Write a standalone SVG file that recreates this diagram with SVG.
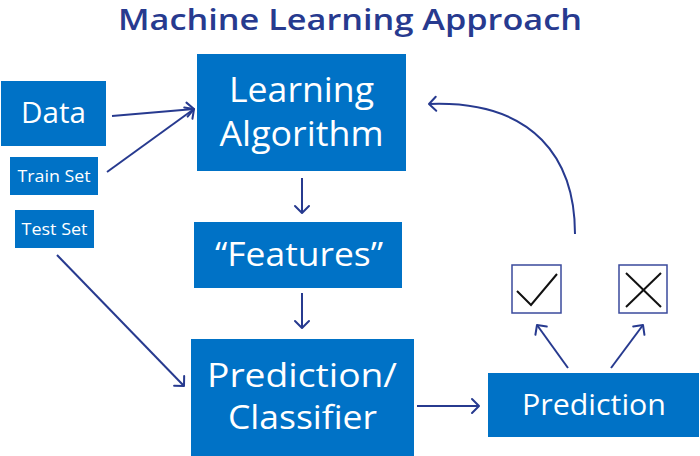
<svg xmlns="http://www.w3.org/2000/svg" width="700" height="456" viewBox="0 0 700 456">
<style>
.box{fill:#0072C6;}
.lbl{fill:#ffffff;font-family:"Open Sans",Lato,"Liberation Sans",sans-serif;text-anchor:middle;}
.edge{fill:none;stroke:#273a8f;stroke-width:2;}
.mk{fill:none;stroke:#273a8f;stroke-width:2;stroke-linecap:round;stroke-linejoin:round;}
.title{fill:#273a8f;font-family:"Open Sans",Lato,"Liberation Sans",sans-serif;font-weight:600;text-anchor:middle;}
.res{fill:#ffffff;stroke:#3a4a9c;stroke-width:1.5;}
.sym{fill:none;stroke:#111111;stroke-width:2;}
</style>
<defs>
<marker id="arr" markerUnits="userSpaceOnUse" markerWidth="20" markerHeight="20" viewBox="-10 -10 20 20" refX="0" refY="0" orient="auto">
<path class="mk" d="M-7,-7 L0,0 L-7,7"/>
</marker>
</defs>
<rect width="700" height="456" fill="#ffffff"/>
<text class="title" x="350" y="30" font-size="29" textLength="464" lengthAdjust="spacingAndGlyphs">Machine Learning Approach</text>

<g id="data"><rect class="box" x="1" y="81" width="105" height="65"/><text class="lbl" x="53.5" y="123" font-size="30" textLength="65" lengthAdjust="spacingAndGlyphs">Data</text></g>
<g id="trainset"><rect class="box" x="10" y="157" width="88" height="38"/><text class="lbl" x="54" y="182" font-size="17" textLength="73" lengthAdjust="spacingAndGlyphs">Train Set</text></g>
<g id="testset"><rect class="box" x="15" y="210" width="79" height="38"/><text class="lbl" x="54.5" y="235" font-size="17" textLength="66" lengthAdjust="spacingAndGlyphs">Test Set</text></g>
<g id="learning"><rect class="box" x="197" y="54" width="209" height="117"/><text class="lbl" x="301.5" y="102" font-size="34" textLength="145" lengthAdjust="spacingAndGlyphs">Learning</text><text class="lbl" x="301.5" y="146" font-size="34" textLength="164" lengthAdjust="spacingAndGlyphs">Algorithm</text></g>
<g id="features"><rect class="box" x="194" y="222" width="208" height="66"/><text class="lbl" x="299" y="266" font-size="32" textLength="168" lengthAdjust="spacingAndGlyphs">“Features”</text></g>
<g id="classifier"><rect class="box" x="191" y="339" width="223" height="117"/><text class="lbl" x="302" y="387" font-size="33" textLength="190" lengthAdjust="spacingAndGlyphs">Prediction/</text><text class="lbl" x="302.5" y="429" font-size="33" textLength="149" lengthAdjust="spacingAndGlyphs">Classifier</text></g>
<g id="prediction"><rect class="box" x="488" y="373" width="211" height="64"/><text class="lbl" x="594" y="415" font-size="30" textLength="144" lengthAdjust="spacingAndGlyphs">Prediction</text></g>
<g id="correct"><rect class="res" x="512" y="265" width="49" height="48"/><polyline class="sym" points="517,291 531,305 557,274"/></g>
<g id="wrong"><rect class="res" x="619" y="265" width="48" height="48"/><line class="sym" x1="626" y1="273" x2="661" y2="307"/><line class="sym" x1="661" y1="273" x2="626" y2="307"/></g>

<g id="connectors">
<line class="edge" x1="112" y1="116" x2="194" y2="109" marker-end="url(#arr)"/>
<line class="edge" x1="107" y1="172" x2="194" y2="109" marker-end="url(#arr)"/>
<line class="edge" x1="302" y1="178" x2="302" y2="213" marker-end="url(#arr)"/>
<line class="edge" x1="302" y1="293" x2="302" y2="328" marker-end="url(#arr)"/>
<line class="edge" x1="57" y1="255" x2="184" y2="386" marker-end="url(#arr)"/>
<line class="edge" x1="417" y1="406" x2="479" y2="406" marker-end="url(#arr)"/>
<line class="edge" x1="568" y1="368" x2="537" y2="325" marker-end="url(#arr)"/>
<line class="edge" x1="611" y1="368" x2="643" y2="325" marker-end="url(#arr)"/>
<path class="edge" d="M575,234 C575,160 535,100 429,104" marker-end="url(#arr)"/>
</g>
</svg>
